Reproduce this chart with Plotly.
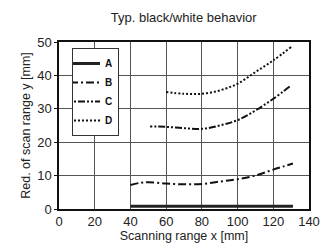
import plotly.graph_objects as go

title = "Typ. black/white behavior"
x_a = [40, 131]
y_a = [0.8, 0.8]
x_b = [40, 45, 50, 60, 70, 80, 90, 100, 110, 120, 131]
y_b = [7.2, 7.8, 8.0, 7.6, 7.4, 7.5, 8.2, 8.9, 10.0, 11.8, 13.6]
x_c = [51, 60, 70, 80, 90, 100, 110, 120, 130]
y_c = [24.7, 24.6, 24.2, 24.0, 25.0, 26.6, 29.5, 33.0, 37.0]
x_d = [60, 70, 80, 90, 100, 110, 120, 130]
y_d = [35.0, 34.5, 34.5, 35.5, 37.5, 41.0, 44.5, 48.5]

fig = go.Figure()
fig.add_trace(go.Scatter(x=x_a, y=y_a, name="A", mode="lines",
                         line=dict(color="#222", width=3)))
fig.add_trace(go.Scatter(x=x_b, y=y_b, name="B", mode="lines", line_shape="spline",
                         line=dict(color="#111", width=2, dash="8px,3px,2px,3px")))
fig.add_trace(go.Scatter(x=x_c, y=y_c, name="C", mode="lines", line_shape="spline",
                         line=dict(color="#111", width=2, dash="2px,2px,2px,2px,7px,2px")))
fig.add_trace(go.Scatter(x=x_d, y=y_d, name="D", mode="lines", line_shape="spline",
                         line=dict(color="#111", width=2, dash="2px,2px")))

font = "Liberation Sans Narrow, Arial Narrow, Liberation Sans, Arial, sans-serif"
fig.update_layout(
    width=331, height=247,
    margin=dict(l=59, r=22, t=42, b=38, autoexpand=False),
    paper_bgcolor="white", plot_bgcolor="white",
    title=dict(text=title, x=0.555, xanchor="center", y=0.93, yanchor="middle",
               font=dict(family=font, size=13, color="#222")),
    font=dict(family=font, size=13, color="#222"),
    showlegend=True,
    legend=dict(x=0.052, y=0.964, xanchor="left", yanchor="top",
                bgcolor="white", bordercolor="#333", borderwidth=1,
                font=dict(family="Liberation Sans, Arial, sans-serif", size=10, color="#111", weight="bold"),
                itemwidth=30, tracegroupgap=0, indentation=-8),
    xaxis=dict(range=[0, 140], dtick=20, tick0=0, showgrid=True, gridcolor="#555", gridwidth=1,
               showline=True, linecolor="#111", linewidth=1.5, mirror=True, automargin=False,
               ticks="", zeroline=False,
               title=dict(text="Scanning range x [mm]", standoff=0, font=dict(size=12.5))),
    yaxis=dict(range=[0, 50], dtick=10, tick0=0, showgrid=True, gridcolor="#555", gridwidth=1,
               showline=True, linecolor="#111", linewidth=1.5, mirror=True, automargin=False,
               ticks="outside", ticklen=3, tickcolor="#111", zeroline=False,
               title=dict(text="Red. of scan range y [mm]", standoff=4, font=dict(size=12.5))),
)
fig.write_html("out.html", config={"displayModeBar": False},
               post_script="document.body.style.margin='0';")
